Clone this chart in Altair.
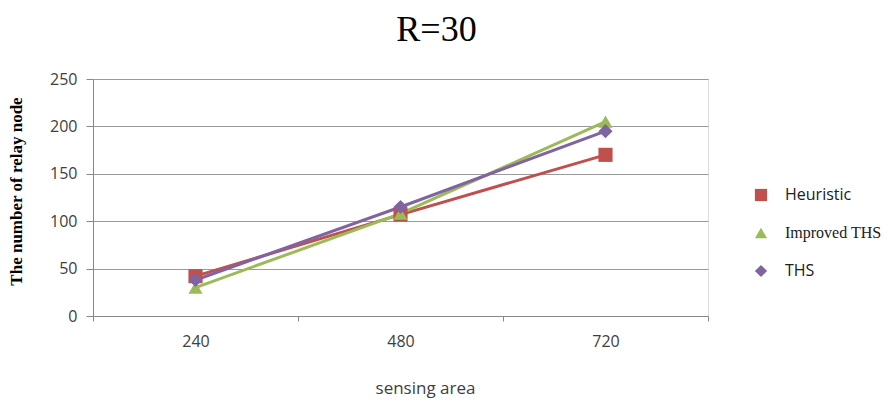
import altair as alt
import pandas as pd

areas = ["240", "480", "720"]
series_names = ["Heuristic", "Improved THS", "THS"]
heuristic = [42, 107, 170]
improved_ths = [30, 108, 205]
ths = [38, 115, 195]
y_ticks = [0, 50, 100, 150, 200, 250]

colors = ["#C0504D", "#9BBB59", "#8064A2"]
shapes = ["square", "triangle-up", "diamond"]

rows = []
for name, vals in zip(series_names, [heuristic, improved_ths, ths]):
    for a, v in zip(areas, vals):
        rows.append({"area": a, "value": v, "series": name})
df = pd.DataFrame(rows)

x_enc = alt.X(
    "area:N",
    sort=areas,
    scale=alt.Scale(paddingInner=0, paddingOuter=0),
    axis=alt.Axis(
        title="sensing area",
        labelAngle=0,
        tickBand="extent",
        tickSize=5,
        labelPadding=12,
        labelFontSize=16,
        labelFont="Open Sans",
        labelColor="#404040",
        domainColor="#888888",
        tickColor="#888888",
        titleFont="Open Sans",
        titleFontSize=17,
        titleFontWeight="normal",
        titleColor="#404040",
        titleX=332,
        titleY=72,
        titleBaseline="middle",
        grid=False,
    ),
)
y_enc = alt.Y(
    "value:Q",
    scale=alt.Scale(domain=[0, 250], nice=False),
    axis=alt.Axis(
        values=y_ticks,
        title="The number of relay node",
        titleFont="Liberation Serif",
        titleFontWeight="bold",
        titleFontSize=17,
        titleColor="#000000",
        titleX=-77,
        titleY=112,
        titleAngle=-90,
        titleAlign="center",
        titleBaseline="middle",
        labelFontSize=16,
        labelFont="Open Sans",
        labelColor="#404040",
        labelPadding=9,
        tickSize=7,
        tickColor="#888888",
        domainColor="#888888",
        gridColor="#9a9a9a",
        gridWidth=1,
    ),
)

color_enc = alt.Color(
    "series:N",
    sort=series_names,
    scale=alt.Scale(domain=series_names, range=colors),
    legend=alt.Legend(
        title=None,
        orient="none",
        legendX=660,
        legendY=108,
        rowPadding=22,
        symbolSize=150,
        symbolStrokeWidth=0,
        labelFontSize=16,
        labelFont={"expr": "datum.label == 'Improved THS' ? 'Liberation Serif' : 'Open Sans'"},
        labelColor="#202020",
        labelOffset=16,
    ),
)
shape_enc = alt.Shape(
    "series:N",
    sort=series_names,
    scale=alt.Scale(domain=series_names, range=shapes),
    legend=None,
)

base = alt.Chart(df)
lines = base.mark_line(strokeWidth=3).encode(x=x_enc, y=y_enc, color=color_enc, detail="series:N")
points = base.mark_point(filled=True, size=200, opacity=1).encode(
    x=x_enc, y=y_enc, color=color_enc, shape=shape_enc
)

chart = (
    alt.layer(lines, points)
    .properties(
        width=615,
        height=237,
        autosize=alt.AutoSizeParams(type="none"),
        padding={"left": 85, "top": 71, "right": 179, "bottom": 85},
        title=alt.TitleParams(
            "R=30",
            font="Liberation Serif",
            fontSize=36,
            fontWeight="normal",
            color="#000000",
            anchor="middle",
            dx=36,
            offset=22,
        ),
    )
    .configure_view(stroke=None)
    .configure(background="white")
)

chart.save("out.html", embed_options={"renderer": "svg", "actions": False})
